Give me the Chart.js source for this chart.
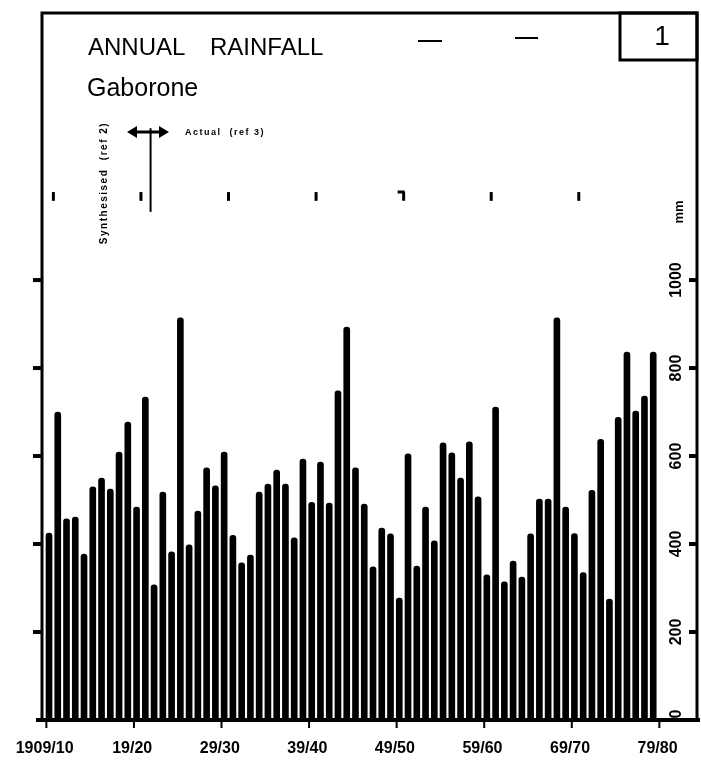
<!DOCTYPE html>
<html>
<head>
<meta charset="utf-8">
<script src="https://cdn.jsdelivr.net/npm/chart.js@4/dist/chart.umd.min.js"></script>
<style>
  html, body { margin: 0; padding: 0; background: #fff; }
  #rain-chart { display: block; }
</style>
</head>
<body>
<canvas id="rain-chart" width="701" height="766"></canvas>
<script>
// Season start years (1909 = 1909/10)
const seasonStart = [
    1909, 1910, 1911, 1912, 1913, 1914, 1915, 1916, 1917, 1918,
    1919, 1920, 1921, 1922, 1923, 1924, 1925, 1926, 1927, 1928,
    1929, 1930, 1931, 1932, 1933, 1934, 1935, 1936, 1937, 1938,
    1939, 1940, 1941, 1942, 1943, 1944, 1945, 1946, 1947, 1948,
    1949, 1950, 1951, 1952, 1953, 1954, 1955, 1956, 1957, 1958,
    1959, 1960, 1961, 1962, 1963, 1964, 1965, 1966, 1967, 1968,
    1969, 1970, 1971, 1972, 1973, 1974, 1975, 1976, 1977, 1978
];

// Annual rainfall, mm
const rainfall = [
    425, 700, 457, 461, 377, 530, 550, 525, 609, 677,
    484, 734, 307, 518, 382, 914, 398, 475, 573, 532,
    609, 420, 357, 375, 518, 536, 568, 536, 414, 593,
    495, 586, 493, 748, 893, 573, 491, 348, 436, 423,
    277, 605, 350, 484, 407, 630, 607, 550, 632, 507,
    330, 711, 314, 361, 325, 423, 502, 502, 914, 484,
    424, 335, 522, 638, 275, 688, 836, 702, 736, 836
];

// Axis ticks
const decadeTicks = [1909, 1919, 1929, 1939, 1949, 1959, 1969, 1979];
const decadeLabels = ['1909/10', '19/20', '29/30', '39/40', '49/50', '59/60', '69/70', '79/80'];
const topMarks = [1909, 1919, 1929, 1939, 1949, 1959, 1969];
const depthTicks = [0, 200, 400, 600, 800, 1000];
const depthLabels = ['0', '200', '400', '600', '800', '1000'];

const FONT = '"Liberation Sans", Arial, sans-serif';

// Frame, titles, ticks and legend drawn around the plot
const decorPlugin = {
    id: 'decor',
    afterDraw(chart) {
        const ctx = chart.ctx;
        const area = chart.chartArea;
        const xs = chart.scales.x;
        const ys = chart.scales.y;
        ctx.save();
        ctx.fillStyle = '#000';
        ctx.strokeStyle = '#000';
        ctx.lineCap = 'butt';

        // outer frame
        ctx.lineWidth = 3;
        ctx.beginPath();
        ctx.moveTo(area.left, area.bottom);
        ctx.lineTo(area.left, area.top);
        ctx.lineTo(area.right, area.top);
        ctx.lineTo(area.right, area.bottom);
        ctx.stroke();
        ctx.lineWidth = 4;
        ctx.beginPath();
        ctx.moveTo(area.left - 6, area.bottom);
        ctx.lineTo(area.right + 3, area.bottom);
        ctx.stroke();

        // figure number box
        ctx.lineWidth = 3;
        ctx.strokeRect(620, area.top, area.right - 620, 47);
        ctx.font = '28px ' + FONT;
        ctx.textAlign = 'center';
        ctx.textBaseline = 'middle';
        ctx.fillText('1', 662, 37);

        // stray dashes near the title
        ctx.lineWidth = 2;
        ctx.beginPath();
        ctx.moveTo(418, 41); ctx.lineTo(442, 41);
        ctx.moveTo(515, 38); ctx.lineTo(538, 38);
        ctx.stroke();

        // titles
        ctx.textAlign = 'left';
        ctx.textBaseline = 'alphabetic';
        ctx.font = '24px ' + FONT;
        ctx.fillText('ANNUAL', 88, 55);
        ctx.fillText('RAINFALL', 210, 55);
        ctx.font = '25px ' + FONT;
        ctx.fillText('Gaborone', 87, 96);

        // bottom decade ticks and labels
        ctx.lineWidth = 2;
        ctx.font = 'bold 16px ' + FONT;
        ctx.textAlign = 'center';
        ctx.textBaseline = 'middle';
        decadeTicks.forEach((yr, i) => {
            const px = xs.getPixelForValue(yr - 0.3);
            ctx.beginPath();
            ctx.moveTo(px, area.bottom);
            ctx.lineTo(px, area.bottom + 8);
            ctx.stroke();
            ctx.fillText(decadeLabels[i], xs.getPixelForValue(yr - 0.5), 749);
        });

        // upper decade marks
        ctx.lineWidth = 3;
        topMarks.forEach(yr => {
            const px = xs.getPixelForValue(yr + 0.5);
            const top = ys.getPixelForValue(1200);
            ctx.beginPath();
            ctx.moveTo(px, top);
            ctx.lineTo(px, ys.getPixelForValue(1180));
            if (yr === 1949) {
                ctx.moveTo(px + 1, top);
                ctx.lineTo(px - 6, top);
            }
            ctx.stroke();
        });

        // left axis ticks (outside)
        ctx.lineWidth = 4;
        depthTicks.slice(1).forEach(v => {
            const py = ys.getPixelForValue(v);
            ctx.beginPath();
            ctx.moveTo(area.left - 9, py);
            ctx.lineTo(area.left, py);
            ctx.stroke();
        });

        // right axis ticks (inside) and rotated labels
        ctx.font = 'bold 16px ' + FONT;
        depthTicks.forEach((v, i) => {
            const py = ys.getPixelForValue(v);
            if (v > 0) {
                ctx.beginPath();
                ctx.moveTo(area.right - 8, py);
                ctx.lineTo(area.right, py);
                ctx.stroke();
            }
            ctx.save();
            ctx.translate(677, py - (v === 0 ? 6 : 0));
            ctx.rotate(-Math.PI / 2);
            ctx.fillText(depthLabels[i], 0, 0);
            ctx.restore();
        });
        ctx.save();
        ctx.translate(679, 212);
        ctx.rotate(-Math.PI / 2);
        ctx.font = 'bold 13px ' + FONT;
        ctx.fillText('mm', 0, 0);
        ctx.restore();

        // synthesised / actual split marker
        const splitX = xs.getPixelForValue(1920.6);
        ctx.lineWidth = 2;
        ctx.beginPath();
        ctx.moveTo(splitX, ys.getPixelForValue(1345));
        ctx.lineTo(splitX, ys.getPixelForValue(1155));
        ctx.stroke();
        ctx.lineWidth = 3;
        ctx.beginPath();
        ctx.moveTo(130, 132); ctx.lineTo(166, 132);
        ctx.stroke();
        ctx.beginPath();
        ctx.moveTo(127, 132); ctx.lineTo(137, 126); ctx.lineTo(137, 138); ctx.closePath();
        ctx.moveTo(169, 132); ctx.lineTo(159, 126); ctx.lineTo(159, 138); ctx.closePath();
        ctx.fill();

        ctx.font = 'bold 9px ' + FONT;
        ctx.letterSpacing = '1.5px';
        ctx.textAlign = 'left';
        ctx.fillText('Actual  (ref 3)', 185, 133);
        ctx.save();
        ctx.translate(104, 183);
        ctx.rotate(-Math.PI / 2);
        ctx.textAlign = 'center';
        ctx.font = 'bold 10px ' + FONT;
        ctx.fillText('Synthesised  (ref 2)', 0, 0);
        ctx.restore();

        ctx.restore();
    }
};

const ctx = document.getElementById('rain-chart').getContext('2d');
const rainChart = new Chart(ctx, {
    type: 'bar',
    data: {
        datasets: [{
            label: 'Annual rainfall',
            data: seasonStart.map((yr, i) => ({ x: yr, y: rainfall[i] })),
            backgroundColor: '#000',
            barThickness: 6,
            borderRadius: 3
        }]
    },
    options: {
        responsive: false,
        animation: false,
        layout: { padding: { left: 42, right: 4, top: 13, bottom: 46 } },
        scales: {
            x: { type: 'linear', min: 1908.2, max: 1983.0, offset: false, display: false },
            y: { min: 0, max: 1607, display: false }
        },
        plugins: {
            legend: { display: false },
            tooltip: { enabled: false }
        }
    },
    plugins: [decorPlugin]
});
</script>
</body>
</html>
